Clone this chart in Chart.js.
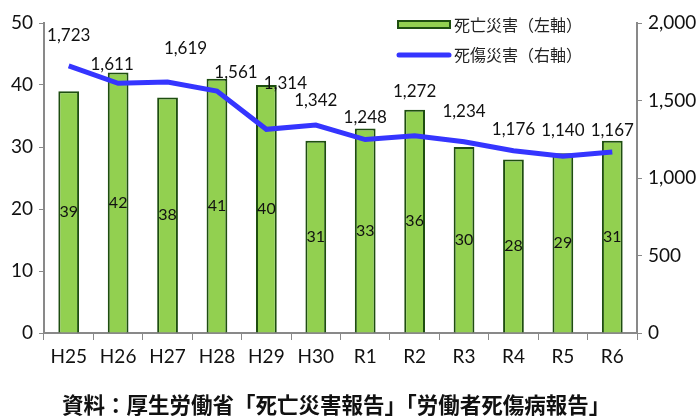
<!DOCTYPE html>
<html>
<head>
<meta charset="utf-8">
<script src="https://cdn.jsdelivr.net/npm/chart.js@4"></script>
<style>
  html, body { margin: 0; padding: 0; background: #fff; }
  #wrap { width: 698px; height: 416px; }
</style>
</head>
<body>
<div id="wrap"><canvas id="chart" width="698" height="416"></canvas></div>
<script>
const years = ['H25', 'H26', 'H27', 'H28', 'H29', 'H30', 'R1', 'R2', 'R3', 'R4', 'R5', 'R6'];
const deaths = [39, 42, 38, 41, 40, 31, 33, 36, 30, 28, 29, 31];
const casualties = [1723, 1611, 1619, 1561, 1314, 1342, 1248, 1272, 1234, 1176, 1140, 1167];
const leftTicks = [0, 10, 20, 30, 40, 50];
const rightTicks = [0, 500, 1000, 1500, 2000];

const deathLabel = '死亡災害（左軸）';
const casualtyLabel = '死傷災害（右軸）';
const caption = '資料：厚生労働省「死亡災害報告」「労働者死傷病報告」';

const font = "Lato, 'Open Sans', 'Noto Sans', sans-serif";
const jpFont = "'Noto Sans CJK JP', sans-serif";
const barFill = '#92D050';
const barEdge = '#1E4E10';
const lineColor = '#3535FF';
const axisColor = '#898989';

// label nudges for the line values, [dx, dy] from the point
const lineLabelShift = [[0, -30], [-6, -19], [18, -34], [19, -19], [19, -46], [0, -24],
                        [0, -22], [0, -44], [0, -30], [0, -21], [0, -26], [0, -22]];

const fmt = v => v.toLocaleString('en-US');

const valueLabels = {
  id: 'valueLabels',
  afterDatasetsDraw(chart) {
    const ctx = chart.ctx;
    ctx.save();
    ctx.fillStyle = '#111';
    ctx.textAlign = 'center';
    ctx.textBaseline = 'middle';
    ctx.font = '16px ' + font;
    chart.getDatasetMeta(0).data.forEach((bar, i) => {
      ctx.fillText(fmt(deaths[i]), bar.x, (bar.y + bar.base) / 2);
    });
    ctx.font = '17px ' + font;
    chart.getDatasetMeta(1).data.forEach((pt, i) => {
      const s = lineLabelShift[i];
      ctx.fillText(fmt(casualties[i]), pt.x + s[0], pt.y + s[1]);
    });
    ctx.restore();
  }
};

// legend + source line drawn by hand
const extras = {
  id: 'extras',
  afterDraw(chart) {
    const ctx = chart.ctx;
    ctx.save();
    ctx.font = '16px ' + jpFont;
    ctx.textBaseline = 'middle';
    ctx.fillStyle = barFill;
    ctx.strokeStyle = barEdge;
    ctx.lineWidth = 2;
    ctx.fillRect(398, 21, 52, 7);
    ctx.strokeRect(398, 21, 52, 7);
    ctx.fillStyle = '#222';
    ctx.fillText(deathLabel, 454, 25);
    ctx.strokeStyle = lineColor;
    ctx.lineWidth = 5;
    ctx.lineCap = 'round';
    ctx.beginPath();
    ctx.moveTo(399, 55);
    ctx.lineTo(449, 55);
    ctx.stroke();
    ctx.fillText(casualtyLabel, 454, 55);

    ctx.fillStyle = '#111';
    ctx.font = 'bold 21.5px ' + jpFont;
    ctx.fillText(caption, 62, 405);
    ctx.restore();
  }
};

new Chart(document.getElementById('chart'), {
  data: {
    labels: years,
    datasets: [{
      type: 'bar',
      label: deathLabel,
      data: deaths,
      yAxisID: 'y',
      backgroundColor: barFill,
      borderColor: barEdge,
      borderWidth: 2,
      barPercentage: 0.42,
      categoryPercentage: 1,
      order: 2
    }, {
      type: 'line',
      label: casualtyLabel,
      data: casualties,
      yAxisID: 'y1',
      borderColor: lineColor,
      borderWidth: 5,
      pointRadius: 0,
      tension: 0,
      order: 1
    }]
  },
  options: {
    responsive: false,
    animation: false,
    layout: { padding: { top: 23, left: 0, right: 0, bottom: 0 } },
    plugins: {
      legend: { display: false },
      tooltip: { enabled: false },
      title: { display: false }
    },
    scales: {
      x: {
        afterFit: axis => { axis.height = 83; },
        grid: { display: true, drawOnChartArea: false, offset: true, tickLength: 7, color: axisColor },
        border: { color: axisColor, width: 2 },
        ticks: { color: '#111', font: { family: font, size: 19 }, padding: 5 }
      },
      y: {
        position: 'left',
        min: 0, max: 50,
        afterBuildTicks: axis => { axis.ticks = leftTicks.map(v => ({ value: v })); },
        afterFit: axis => { axis.width = 44; },
        grid: { drawOnChartArea: false, tickLength: 5, color: axisColor },
        border: { color: axisColor, width: 2 },
        ticks: { color: '#111', font: { family: font, size: 19 }, padding: 6 }
      },
      y1: {
        position: 'right',
        min: 0, max: 2000,
        afterBuildTicks: axis => { axis.ticks = rightTicks.map(v => ({ value: v })); },
        afterFit: axis => { axis.width = 61; },
        grid: { drawOnChartArea: false, tickLength: 5, color: axisColor },
        border: { color: axisColor, width: 2 },
        ticks: { color: '#111', font: { family: font, size: 19 }, padding: 6,
                 callback: v => fmt(v) }
      }
    }
  },
  plugins: [valueLabels, extras]
});
</script>
</body>
</html>
